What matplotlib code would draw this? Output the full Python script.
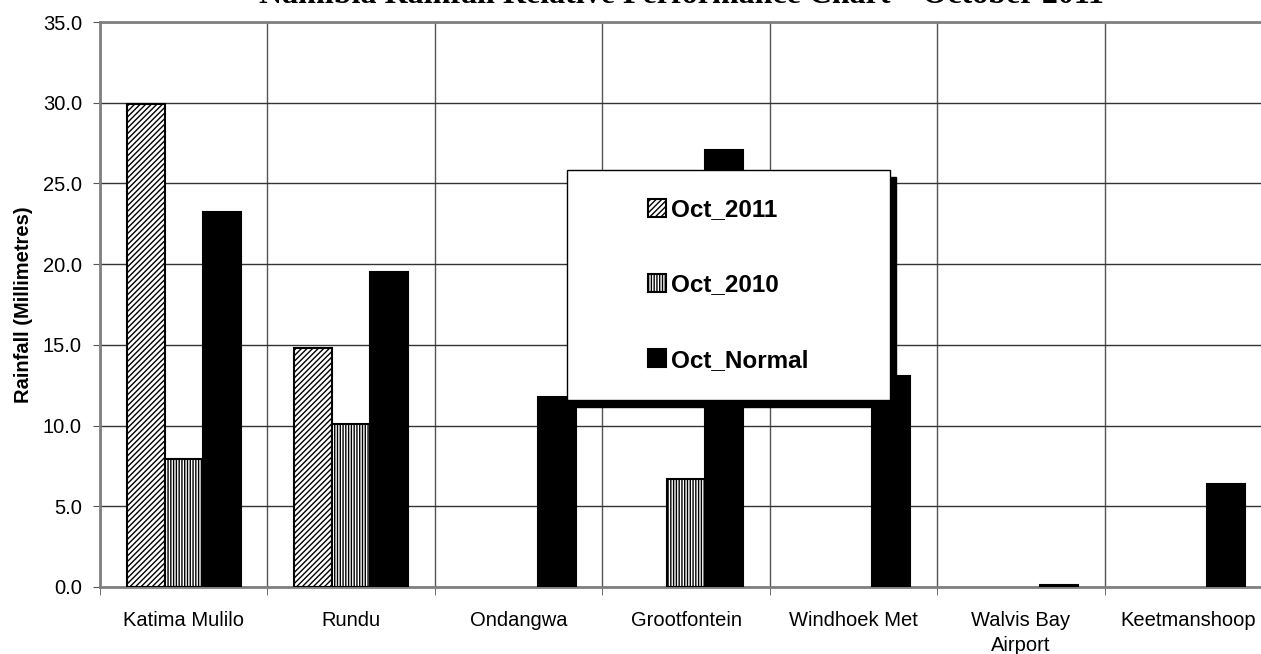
import matplotlib
matplotlib.use("Agg")
import matplotlib.pyplot as plt
from matplotlib.patches import Rectangle
import numpy as np

stations = ["Katima Mulilo", "Rundu", "Ondangwa", "Grootfontein",
            "Windhoek Met", "Walvis Bay\nAirport", "Keetmanshoop"]
oct_2011 = [29.9, 14.8, 0.0, 0.0, 0.0, 0.0, 0.0]
oct_2010 = [7.9, 10.1, 0.0, 6.7, 0.0, 0.0, 0.0]
oct_normal = [23.2, 19.5, 11.8, 27.1, 13.1, 0.1, 6.4]
yticks = [0, 5, 10, 15, 20, 25, 30, 35]

plt.rcParams['font.family'] = ['Liberation Sans', 'DejaVu Sans']
plt.rcParams['hatch.linewidth'] = 1.0

W, H = 1261, 654
fig = plt.figure(figsize=(W / 100, H / 100), dpi=100)
ax = fig.add_axes([100 / W, 1 - 587 / H, 1172 / W, 565 / H])

x = np.arange(len(stations))
w = 0.227

def edges(vals):
    # no outline for empty bars
    return [1.5 if v > 0 else 0 for v in vals]

ax.bar(x - w, oct_2011, w, color='white', edgecolor='black', hatch='//////',
       linewidth=edges(oct_2011), label='Oct_2011', zorder=3)
ax.bar(x, oct_2010, w, color='white', edgecolor='black', hatch='||||||',
       linewidth=edges(oct_2010), label='Oct_2010', zorder=3)
ax.bar(x + w, oct_normal, w, color='black', edgecolor='black',
       linewidth=edges(oct_normal), label='Oct_Normal', zorder=3)

ax.set_xlim(-0.5, len(stations) - 0.5)
ax.set_ylim(0, 35)
ax.set_yticks(yticks)
ax.set_yticklabels(['%.1f' % v for v in yticks], fontsize=14.5)
ax.set_xticks(x)
ax.set_xticklabels(stations, fontsize=14.5, linespacing=1.45)
ax.set_xticks(np.arange(len(stations) + 1) - 0.5, minor=True)
ax.tick_params(axis='x', which='major', length=0, pad=17)
ax.tick_params(axis='x', which='minor', length=6, direction='out', color='#555555')
ax.tick_params(axis='y', length=5, color='#555555', pad=8)
ax.grid(True, axis='y', color='#333333', linewidth=1.0, zorder=0)
ax.grid(True, axis='x', which='minor', color='#555555', linewidth=1.0, zorder=0)
ax.set_axisbelow(True)
for s in ax.spines.values():
    s.set_color('#808080')
    s.set_linewidth(2)

ax.set_ylabel('Rainfall (Millimetres)', fontsize=14.5, fontweight='bold')
ax.yaxis.set_label_coords((33 - 100) / 1172, 0.5)

fig.text(681 / W, 1 - 3 / H,
         'Namibia Rainfall Relative Performance Chart \u2013 October 2011',
         family=['Liberation Serif', 'DejaVu Serif'], fontweight='bold',
         fontsize=23, ha='center', va='baseline')

# legend box with drop shadow
lx0, lx1, ly0, ly1 = 567, 890, 170, 400
fig.patches.append(Rectangle(((lx0 + 6) / W, 1 - (ly1 + 7) / H), (lx1 - lx0) / W,
                             (ly1 - ly0) / H, transform=fig.transFigure,
                             facecolor='black', edgecolor='black', zorder=3))
fig.patches.append(Rectangle((lx0 / W, 1 - ly1 / H), (lx1 - lx0) / W,
                             (ly1 - ly0) / H, transform=fig.transFigure,
                             facecolor='white', edgecolor='black', linewidth=1,
                             zorder=4))
handles, labels = ax.get_legend_handles_labels()
leg = fig.legend(handles, labels, loc='center',
                 bbox_to_anchor=((lx0 + lx1) / 2 / W, 1 - (ly0 + ly1) / 2 / H),
                 frameon=False, prop={'weight': 'bold', 'size': 17.5},
                 handlelength=0.75, handleheight=0.75, handletextpad=0.2,
                 labelspacing=2.15)
for hnd in leg.legend_handles:
    hnd.set_linewidth(1.5)
leg.set_zorder(5)

fig.savefig('out.png', dpi=100)
